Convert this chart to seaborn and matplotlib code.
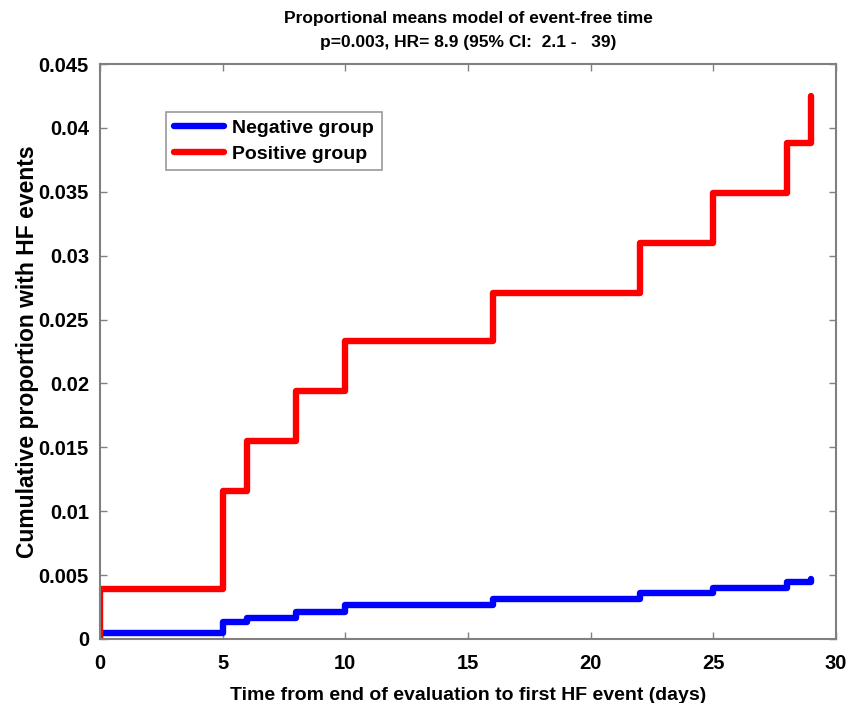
import matplotlib
matplotlib.use("Agg")
import matplotlib.pyplot as plt
import seaborn as sns
import pandas as pd

# Data
neg_time = [0, 0, 5, 6, 8, 10, 16, 22, 25, 28, 29]
neg_value = [0.0, 0.00045, 0.0013, 0.00165, 0.0021, 0.0027, 0.0031, 0.0036, 0.0040, 0.0045, 0.0047]
pos_time = [0, 0, 5, 6, 8, 10, 16, 22, 25, 28, 29]
pos_value = [0.0, 0.0039, 0.0116, 0.0155, 0.0194, 0.0233, 0.0271, 0.0310, 0.0349, 0.0388, 0.0425]
group_names = ["Negative group", "Positive group"]
x_ticks = [0, 5, 10, 15, 20, 25, 30]
y_ticks = [0, 0.005, 0.01, 0.015, 0.02, 0.025, 0.03, 0.035, 0.04, 0.045]
y_tick_labels = ["0", "0.005", "0.01", "0.015", "0.02", "0.025", "0.03", "0.035", "0.04", "0.045"]

df = pd.concat([
    pd.DataFrame({"time": neg_time, "value": neg_value, "group": group_names[0]}),
    pd.DataFrame({"time": pos_time, "value": pos_value, "group": group_names[1]}),
], ignore_index=True)

sns.set_theme(style="white")
plt.rcParams["font.family"] = ["Liberation Sans", "DejaVu Sans"]
plt.rcParams["font.weight"] = "bold"
plt.rcParams["text.color"] = "black"
plt.rcParams["axes.labelcolor"] = "black"
plt.rcParams["xtick.color"] = "black"
plt.rcParams["ytick.color"] = "black"

fig = plt.figure(figsize=(8.61, 7.03), dpi=100)
ax = fig.add_axes([100 / 861, 1 - 639 / 703, 736 / 861, 575 / 703])

sns.lineplot(data=df, x="time", y="value", hue="group",
             palette={group_names[0]: "#0000ff", group_names[1]: "#ff0000"},
             estimator=None, sort=False, drawstyle="steps-post",
             linewidth=4.6, ax=ax, legend=True)

ax.set_xlim(0, 30)
ax.set_ylim(0, 0.045)
ax.set_xticks(x_ticks)
ax.set_xticklabels([str(t) for t in x_ticks], fontsize=14.5, fontweight="bold")
ax.set_yticks(y_ticks)
ax.set_yticklabels(y_tick_labels, fontsize=14.5, fontweight="bold")
ax.tick_params(axis="both", which="both", direction="in", length=5, width=1,
               color="#808080", labelcolor="black",
               top=True, right=True, bottom=True, left=True)
ax.tick_params(axis="x", pad=11)
ax.tick_params(axis="y", pad=8)
for s in ax.spines.values():
    s.set_color("#808080")
    s.set_linewidth(1.5)

ax.set_xlabel("Time from end of evaluation to first HF event (days)",
              fontsize=14, fontweight="bold", labelpad=10)
ax.set_ylabel("Cumulative proportion with HF events",
              fontsize=16.5, fontweight="bold", labelpad=0)
ax.set_title("Proportional means model of event-free time\np=0.003, HR= 8.9 (95% CI:  2.1 -   39)",
             fontsize=12.5, fontweight="bold", pad=12, linespacing=1.8)

leg = ax.legend(loc="upper left", bbox_to_anchor=(0.0897, 0.917), fontsize=14,
                frameon=True, fancybox=False, handlelength=2.6, borderpad=0.4,
                labelspacing=0.4, handletextpad=0.4, borderaxespad=0)
leg.get_frame().set_edgecolor("#808080")
leg.get_frame().set_linewidth(1.2)
for t in leg.get_texts():
    t.set_fontweight("bold")
for h in leg.get_lines():
    h.set_linewidth(4.6)

fig.savefig("out.png", dpi=100)
